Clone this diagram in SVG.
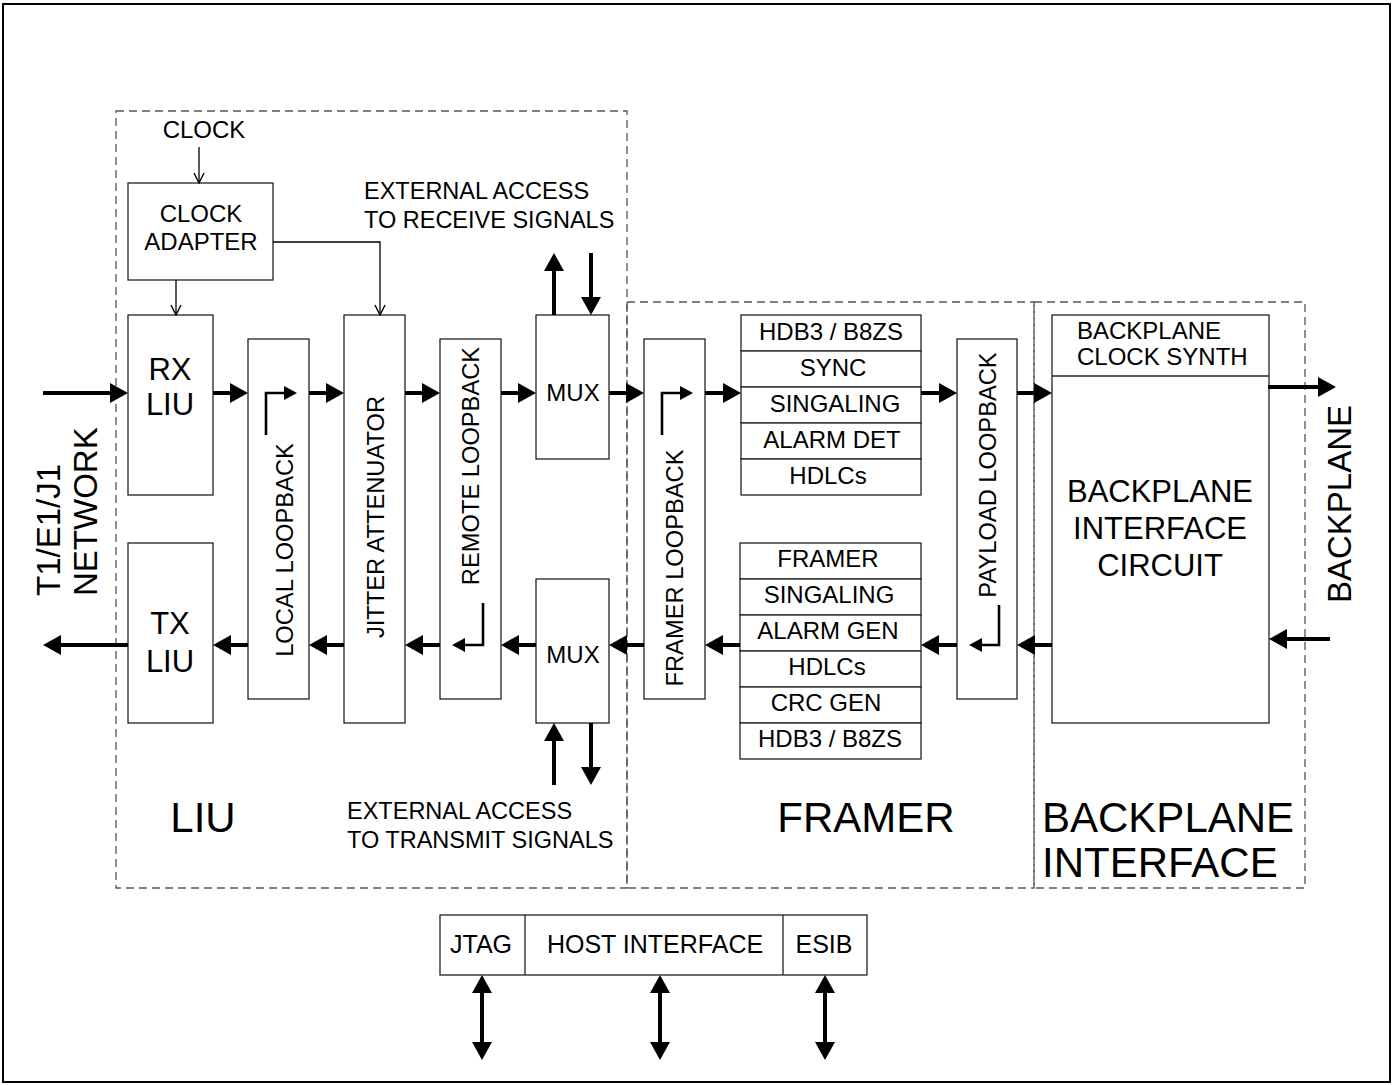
<svg xmlns="http://www.w3.org/2000/svg" width="1392" height="1085" viewBox="0 0 1392 1085">
<style>
.box{fill:#fff;stroke:#222;stroke-width:1.3}
.dash{fill:none;stroke:#555;stroke-width:1.3;stroke-dasharray:8 5}
.t{font-family:"Liberation Sans",Arial,sans-serif;fill:#000;text-anchor:middle}
.s{font-size:24px}
.m{font-size:31px}
.b{font-size:42px}
.side{font-size:33px;text-anchor:start}
.lb{font-size:23.7px}
.thick{fill:none;stroke:#000;stroke-width:4;marker-end:url(#ah)}
.dbl{fill:none;stroke:#000;stroke-width:4;marker-end:url(#ah);marker-start:url(#ahs)}
.thin{fill:none;stroke:#000;stroke-width:1.3;marker-end:url(#av)}
.mid{fill:none;stroke:#000;stroke-width:2.6;marker-end:url(#am)}
</style>
<defs>
<marker id="ah" viewBox="0 0 18 20" refX="8" refY="10" markerWidth="18" markerHeight="20" markerUnits="userSpaceOnUse" orient="auto"><path d="M0,0 L18,10 L0,20 z" fill="#000"/></marker>
<marker id="ahs" viewBox="0 0 18 20" refX="8" refY="10" markerWidth="18" markerHeight="20" markerUnits="userSpaceOnUse" orient="auto-start-reverse"><path d="M0,0 L18,10 L0,20 z" fill="#000"/></marker>
<marker id="am" viewBox="0 0 13 14" refX="3" refY="7" markerWidth="13" markerHeight="14" markerUnits="userSpaceOnUse" orient="auto"><path d="M0,0 L13,7 L0,14 z" fill="#000"/></marker>
<marker id="av" viewBox="0 0 12 12" refX="11" refY="6" markerWidth="12" markerHeight="12" markerUnits="userSpaceOnUse" orient="auto"><path d="M1,1 L11,6 L1,11" fill="none" stroke="#000" stroke-width="1.4"/></marker>
</defs>
<rect x="3" y="4" width="1387" height="1078" fill="#fff" stroke="#000" stroke-width="2"/>

<g id="regions">
<rect class="dash" x="116" y="111" width="511" height="777"/>
<rect class="dash" x="627" y="302" width="407" height="586"/>
<rect class="dash" x="1034" y="302" width="271" height="586"/>
<text class="t b" x="203" y="832">LIU</text>
<text class="t b" x="866" y="832">FRAMER</text>
<text class="t b" x="1042" y="832" style="text-anchor:start">BACKPLANE</text>
<text class="t b" x="1042" y="877" style="text-anchor:start">INTERFACE</text>
</g>

<g id="labels">
<text class="t s" x="204" y="138">CLOCK</text>
<text class="t s" x="364" y="199" style="text-anchor:start;font-size:23.5px">EXTERNAL ACCESS</text>
<text class="t s" x="364" y="228" style="text-anchor:start;font-size:23.5px">TO RECEIVE SIGNALS</text>
<text class="t s" x="347" y="819" style="text-anchor:start;font-size:23.5px">EXTERNAL ACCESS</text>
<text class="t s" x="347" y="848" style="text-anchor:start;font-size:23.5px">TO TRANSMIT SIGNALS</text>
<text class="t side" transform="translate(60,596) rotate(-90)">T1/E1/J1</text>
<text class="t side" transform="translate(97,596) rotate(-90)">NETWORK</text>
<text class="t side" transform="translate(1351,603) rotate(-90)">BACKPLANE</text>
</g>

<g id="clock-adapter">
<rect class="box" x="128" y="183" width="145" height="97"/>
<text class="t s" x="201" y="222">CLOCK</text>
<text class="t s" x="201" y="250">ADAPTER</text>
</g>

<g id="rx-liu">
<rect class="box" x="128" y="315" width="85" height="180"/>
<text class="t m" x="170" y="380">RX</text>
<text class="t m" x="170" y="415">LIU</text>
</g>
<g id="tx-liu">
<rect class="box" x="128" y="543" width="85" height="180"/>
<text class="t m" x="170" y="634">TX</text>
<text class="t m" x="170" y="672">LIU</text>
</g>

<g id="local-loopback">
<rect class="box" x="248" y="339" width="61" height="360"/>
<text class="t lb" transform="translate(284,550) rotate(-90)" y="8.5">LOCAL LOOPBACK</text>
</g>
<g id="jitter-attenuator">
<rect class="box" x="344" y="315" width="61" height="408"/>
<text class="t lb" transform="translate(375,517) rotate(-90)" y="8.5">JITTER ATTENUATOR</text>
</g>
<g id="remote-loopback">
<rect class="box" x="440" y="339" width="61" height="360"/>
<text class="t lb" transform="translate(470.5,466) rotate(-90)" y="8.5">REMOTE LOOPBACK</text>
</g>
<g id="mux-rx">
<rect class="box" x="536" y="315" width="73" height="144"/>
<text class="t s" x="573" y="401">MUX</text>
</g>
<g id="mux-tx">
<rect class="box" x="536" y="579" width="73" height="144"/>
<text class="t s" x="573" y="663">MUX</text>
</g>
<g id="framer-loopback">
<rect class="box" x="644" y="339" width="61" height="360"/>
<text class="t lb" transform="translate(674.5,568) rotate(-90)" y="8.5">FRAMER LOOPBACK</text>
</g>

<g id="rx-framer">
<rect class="box" x="741" y="315" width="180" height="36"/>
<rect class="box" x="741" y="351" width="180" height="36"/>
<rect class="box" x="741" y="387" width="180" height="36"/>
<rect class="box" x="741" y="423" width="180" height="36"/>
<rect class="box" x="741" y="459" width="180" height="36"/>
<text class="t s" x="831" y="340">HDB3 / B8ZS</text>
<text class="t s" x="833" y="376">SYNC</text>
<text class="t s" x="835" y="412">SINGALING</text>
<text class="t s" x="832" y="448">ALARM DET</text>
<text class="t s" x="828" y="484">HDLCs</text>
</g>
<g id="tx-framer">
<rect class="box" x="740" y="543" width="181" height="36"/>
<rect class="box" x="740" y="579" width="181" height="36"/>
<rect class="box" x="740" y="615" width="181" height="36"/>
<rect class="box" x="740" y="651" width="181" height="36"/>
<rect class="box" x="740" y="687" width="181" height="36"/>
<rect class="box" x="740" y="723" width="181" height="36"/>
<text class="t s" x="828" y="567">FRAMER</text>
<text class="t s" x="829" y="603">SINGALING</text>
<text class="t s" x="828" y="639">ALARM GEN</text>
<text class="t s" x="827" y="675">HDLCs</text>
<text class="t s" x="826" y="711">CRC GEN</text>
<text class="t s" x="830" y="747">HDB3 / B8ZS</text>
</g>

<g id="payload-loopback">
<rect class="box" x="957" y="339" width="60" height="360"/>
<text class="t lb" transform="translate(987,475) rotate(-90)" y="8.5">PAYLOAD LOOPBACK</text>
</g>

<g id="backplane-interface-circuit">
<rect class="box" x="1052" y="315" width="217" height="408"/>
<line x1="1052" y1="376" x2="1269" y2="376" stroke="#222" stroke-width="1.3"/>
<text class="t s" x="1077" y="339" style="text-anchor:start">BACKPLANE</text>
<text class="t s" x="1077" y="365" style="text-anchor:start">CLOCK SYNTH</text>
<text class="t m" x="1160" y="502">BACKPLANE</text>
<text class="t m" x="1160" y="539">INTERFACE</text>
<text class="t m" x="1160" y="576">CIRCUIT</text>
</g>

<g id="host-interface">
<rect class="box" x="440" y="915" width="427" height="60"/>
<line x1="525" y1="915" x2="525" y2="975" stroke="#222" stroke-width="1.3"/>
<line x1="783" y1="915" x2="783" y2="975" stroke="#222" stroke-width="1.3"/>
<text class="t" x="481" y="953" style="font-size:25px">JTAG</text>
<text class="t" x="655" y="953" style="font-size:25px">HOST INTERFACE</text>
<text class="t" x="824" y="953" style="font-size:25px">ESIB</text>
</g>

<g id="connectors">
<path class="thin" d="M199,147 V183"/>
<path class="thin" d="M176,280 V315"/>
<path class="thin" d="M273,242 H380 V315"/>

<path class="thick" d="M43,393 H118"/>
<path class="thick" d="M213,393 H238"/>
<path class="thick" d="M309,393 H334"/>
<path class="thick" d="M405,393 H430"/>
<path class="thick" d="M501,393 H526"/>
<path class="thick" d="M609,393 H634"/>
<path class="thick" d="M705,393 H731"/>
<path class="thick" d="M921,393 H947"/>
<path class="thick" d="M1017,393 H1042"/>
<path class="thick" d="M1268,387 H1326"/>

<path class="thick" d="M1330,639 H1279"/>
<path class="thick" d="M1052,645 H1027"/>
<path class="thick" d="M957,645 H931"/>
<path class="thick" d="M740,645 H715"/>
<path class="thick" d="M644,645 H619"/>
<path class="thick" d="M536,645 H511"/>
<path class="thick" d="M440,645 H415"/>
<path class="thick" d="M344,645 H319"/>
<path class="thick" d="M248,645 H223"/>
<path class="thick" d="M128,645 H53"/>

<path class="thick" d="M554,315 V263"/>
<path class="thick" d="M591,253 V305"/>
<path class="thick" d="M554,785 V733"/>
<path class="thick" d="M591,723 V775"/>

<path class="mid" d="M266,435 V393 H287"/>
<path class="mid" d="M662,435 V393 H683"/>
<path class="mid" d="M483,603 V645 H462"/>
<path class="mid" d="M999,605 V645 H979"/>

<path class="dbl" d="M482,985 V1050"/>
<path class="dbl" d="M660,985 V1050"/>
<path class="dbl" d="M825,985 V1050"/>
</g>
</svg>
